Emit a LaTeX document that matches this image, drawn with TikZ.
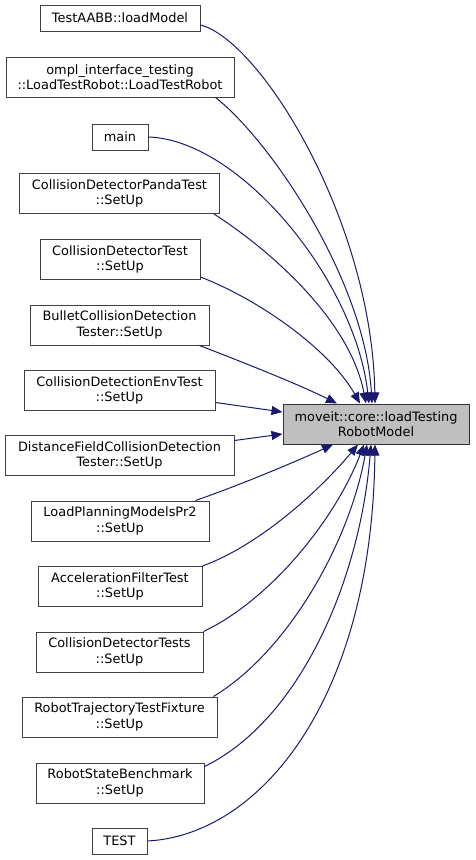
\documentclass[tikz,border=0pt]{standalone}
\usepackage{fontspec}
\setmainfont{DejaVu Sans}
\usetikzlibrary{arrows.meta}
\definecolor{edgeblue}{HTML}{191970}
\definecolor{boxline}{HTML}{404040}
\definecolor{targetfill}{HTML}{BFBFBF}
\tikzset{
  fn/.style={draw=boxline, line width=1pt, fill=white, inner sep=0pt, align=center,
    font=\fontsize{12.9}{15.5}\selectfont},
  tgt/.style={fn, fill=targetfill, draw=black!80},
  edge/.style={draw=edgeblue, line width=1pt, -{Triangle[length=11pt,width=9pt]}, fill=none},
}
\begin{document}
\begin{tikzpicture}[x=1pt,y=-1pt]
\useasboundingbox (0,0) rectangle (475,860);
\node[fn, minimum width=160pt, minimum height=26pt] (A) at (120,18) {TestAABB::loadModel};
\node[fn, minimum width=228pt, minimum height=40pt] (B) at (120,77) {ompl\_interface\_testing\\::LoadTestRobot::LoadTestRobot};
\node[fn, minimum width=56pt, minimum height=26pt] (C) at (120,137) {main};
\node[fn, minimum width=200pt, minimum height=40pt] (D) at (119.5,193.5) {CollisionDetectorPandaTest\\::SetUp};
\node[fn, minimum width=160pt, minimum height=40pt] (E) at (120,259.5) {CollisionDetectorTest\\::SetUp};
\node[fn, minimum width=179pt, minimum height=40pt] (F) at (119.5,325) {BulletCollisionDetection\\Tester::SetUp};
\node[fn, minimum width=191pt, minimum height=40pt] (G) at (119.5,390.5) {CollisionDetectionEnvTest\\::SetUp};
\node[fn, minimum width=229pt, minimum height=40pt] (H) at (119.5,455.5) {DistanceFieldCollisionDetection\\Tester::SetUp};
\node[fn, minimum width=178pt, minimum height=40pt] (I) at (120,521) {LoadPlanningModelsPr2\\::SetUp};
\node[fn, minimum width=164pt, minimum height=40pt] (J) at (120,586.5) {AccelerationFilterTest\\::SetUp};
\node[fn, minimum width=167pt, minimum height=40pt] (K) at (119.5,652) {CollisionDetectorTests\\::SetUp};
\node[fn, minimum width=195pt, minimum height=40pt] (L) at (119.5,717) {RobotTrajectoryTestFixture\\::SetUp};
\node[fn, minimum width=168pt, minimum height=40pt] (M) at (120,783) {RobotStateBenchmark\\::SetUp};
\node[fn, minimum width=55pt, minimum height=26pt] (N) at (119.5,841) {TEST};
\node[tgt, minimum width=186pt, minimum height=40pt] (T) at (376,424) {moveit::core::loadTesting\\RobotModel};

\draw[edge] ([yshift=-7pt]A.east) .. controls (260,40) and (372,220) .. ([xshift=-1pt]T.north);
\draw[edge] ([xshift=-19pt]B.south east) .. controls (270,140) and (365,280) .. ([xshift=-4pt]T.north);
\draw[edge] (C.east) .. controls (240,140) and (355,280) .. ([xshift=-7pt]T.north);
\draw[edge] ([xshift=-6pt]D.south east) .. controls (270,250) and (350,320) .. ([xshift=-10pt]T.north);
\draw[edge] ([yshift=3pt]E.south east) .. controls (260,300) and (330,350) .. ([xshift=-16pt]T.north);
\draw[edge] ([xshift=-10pt]F.south east) .. controls (250,365) and (300,385) .. ([xshift=-39pt]T.north);
\draw[edge] ([yshift=-12pt]G.east) -- ([yshift=12pt]T.west);
\draw[edge] ([yshift=15pt]H.east) -- ([yshift=-10pt]T.west);
\draw[edge] ([xshift=-14pt]I.north east) .. controls (240,485) and (295,462) .. ([xshift=-43pt]T.south);
\draw[edge] (J.north east) .. controls (260,545) and (320,490) .. ([xshift=-18pt]T.south);
\draw[edge] (K.north east) .. controls (270,600) and (335,520) .. ([xshift=-12pt]T.south);
\draw[edge] ([xshift=-4pt]L.north east) .. controls (290,650) and (350,540) .. ([xshift=-9pt]T.south);
\draw[edge] ([yshift=-4pt]M.north east) .. controls (300,720) and (360,580) .. ([xshift=-5pt]T.south);
\draw[edge] (N.east) .. controls (260,835) and (372,700) .. ([xshift=-1pt]T.south);
\end{tikzpicture}
\end{document}
